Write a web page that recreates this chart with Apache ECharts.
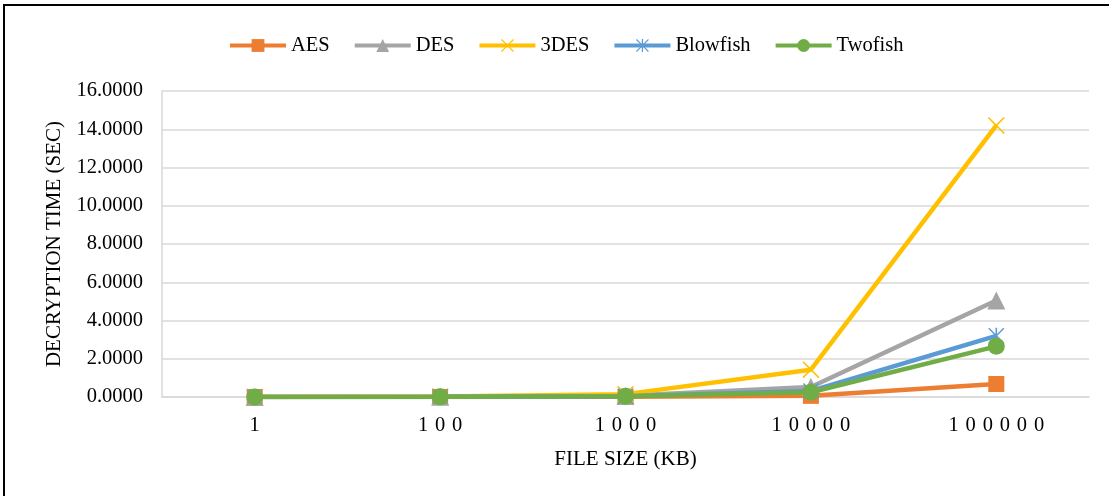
<!DOCTYPE html>
<html>
<head>
<meta charset="utf-8">
<script src="https://cdn.jsdelivr.net/npm/echarts@6/dist/echarts.min.js"></script>
<style>
  html, body { margin: 0; padding: 0; background: #fff; }
  #chart { width: 1109px; height: 496px; }
</style>
</head>
<body>
<div id="chart"></div>
<script>
// File sizes (KB) on the category axis
const fileSizes = ['1', '100', '1000', '10000', '100000'];

// Decryption time in seconds per algorithm
const aesTimes       = [0.0010, 0.0030, 0.0120, 0.0600, 0.6800];
const desTimes       = [0.0020, 0.0100, 0.0600, 0.5200, 5.0500];
const tripleDesTimes = [0.0030, 0.0250, 0.1500, 1.4300, 14.2000];
const blowfishTimes  = [0.0020, 0.0080, 0.0400, 0.3200, 3.2000];
const twofishTimes   = [0.0020, 0.0070, 0.0400, 0.2500, 2.6500];

// Y axis ticks
const yMin = 0, yMax = 16, yStep = 2;

const FONT = '"Liberation Serif", "Times New Roman", serif';

// Marker shapes: a thin cross and an asterisk
const crossPath = 'path://M0,1.3L1.3,0L10,8.7L18.7,0L20,1.3L11.3,10L20,18.7L18.7,20L10,11.3L1.3,20L0,18.7L8.7,10Z';
const starPath = 'path://M0,1.3L1.3,0L10,8.7L18.7,0L20,1.3L11.3,10L20,18.7L18.7,20L10,11.3L1.3,20L0,18.7L8.7,10Z' +
                 'M9,0L11,0L11,20L9,20Z';

function lineSeries(name, data, color, symbol, size) {
  return {
    name: name,
    type: 'line',
    data: data,
    symbol: symbol,
    symbolSize: size,
    showAllSymbol: true,
    lineStyle: { color: color, width: 4.5 },
    itemStyle: { color: color },
    emphasis: { disabled: true },
    animation: false
  };
}

const chart = echarts.init(document.getElementById('chart'), null, { renderer: 'canvas' });

chart.setOption({
  backgroundColor: '#ffffff',
  textStyle: { fontFamily: FONT },
  graphic: [{
    type: 'rect',
    shape: { x: 4, y: 5, width: 1300, height: 700 },
    style: { fill: 'none', stroke: '#000', lineWidth: 2 },
    silent: true
  }],
  legend: {
    top: 30,
    left: 223,
    itemWidth: 56,
    itemHeight: 16,
    itemGap: 23,
    lineStyle: { width: 4 },
    textStyle: { fontFamily: FONT, fontSize: 20.5, color: '#000' },
    data: ['AES', 'DES', '3DES', 'Blowfish', 'Twofish']
  },
  grid: { left: 162, right: 20, top: 91, bottom: 99 },
  xAxis: {
    type: 'category',
    data: fileSizes,
    boundaryGap: true,
    name: 'FILE SIZE (KB)',
    nameLocation: 'middle',
    nameGap: 52,
    nameTextStyle: { fontFamily: FONT, fontSize: 21, color: '#000' },
    axisLine: { lineStyle: { color: '#d9d9d9', width: 1.5 } },
    axisTick: { show: false },
    axisLabel: {
      fontFamily: FONT, fontSize: 20.5, color: '#000', margin: 18,
      formatter: function (v) { return v.split('').join('\u2004'); }
    }
  },
  yAxis: {
    type: 'value',
    min: yMin,
    max: yMax,
    interval: yStep,
    name: 'DECRYPTION TIME (SEC)',
    nameLocation: 'middle',
    nameGap: 96,
    nameTextStyle: { fontFamily: FONT, fontSize: 21, color: '#000' },
    axisLine: { show: true, lineStyle: { color: '#d9d9d9', width: 1.5 } },
    axisTick: { show: false },
    splitLine: { lineStyle: { color: '#d9d9d9', width: 1.5 } },
    axisLabel: {
      fontFamily: FONT, fontSize: 20.5, color: '#000', margin: 19,
      formatter: function (v) { return v.toFixed(4); }
    }
  },
  series: [
    lineSeries('AES', aesTimes, '#ED7D31', 'rect', 16),
    lineSeries('DES', desTimes, '#A5A5A5', 'triangle', 18),
    lineSeries('3DES', tripleDesTimes, '#FFC000', crossPath, 17),
    lineSeries('Blowfish', blowfishTimes, '#5B9BD5', starPath, 16),
    lineSeries('Twofish', twofishTimes, '#70AD47', 'circle', 17)
  ]
});
</script>
</body>
</html>
